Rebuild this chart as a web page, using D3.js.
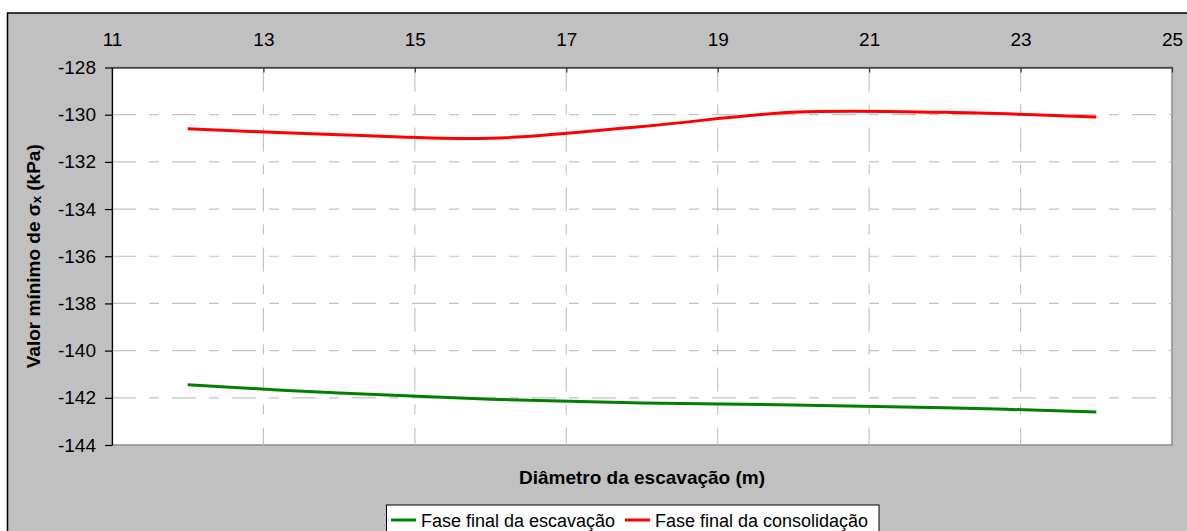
<!DOCTYPE html>
<html>
<head>
<meta charset="utf-8">
<script src="https://cdn.jsdelivr.net/npm/d3@7"></script>
<style>
  html, body { margin: 0; padding: 0; background: #ffffff; }
  svg { display: block; font-family: "Liberation Sans", Arial, sans-serif; }
</style>
</head>
<body>
<svg id="chart" width="1187" height="531"></svg>
<script>
// Excavation diameter (m)
const diameters = [12, 14, 16, 18, 20, 22, 24];
// Minimum horizontal stress σx (kPa) per phase
const escavacao = [-141.45, -141.8, -142.06, -142.22, -142.3, -142.42, -142.6];
const consolidacao = [-130.6, -130.85, -131.0, -130.5, -129.9, -129.9, -130.1];
const seriesNames = ["Fase final da escavação", "Fase final da consolidação"];
const seriesColors = ["#008000", "#ff0000"];
const xTicks = [11, 13, 15, 17, 19, 21, 23, 25];
const yTicks = [-128, -130, -132, -134, -136, -138, -140, -142, -144];

const FS = 19;
const svg = d3.select("#chart");
const W = 1187, H = 531;
const plot = { left: 112, top: 67.5, right: 1172, bottom: 445 };

// chart area background with frame
svg.append("rect").attr("x", 7.5).attr("y", 13).attr("width", W).attr("height", H)
  .attr("fill", "#c0c0c0");
svg.append("path").attr("d", `M7.5,${H} V13 H${W}`)
  .attr("fill", "none").attr("stroke", "#000").attr("stroke-width", 1.5);

const x = d3.scaleLinear().domain([11, 25]).range([plot.left, plot.right]);
const y = d3.scaleLinear().domain([-144, -128]).range([plot.bottom, plot.top]);

// plot area
svg.append("rect")
  .attr("x", plot.left).attr("y", plot.top)
  .attr("width", plot.right - plot.left).attr("height", plot.bottom - plot.top)
  .attr("fill", "#ffffff").attr("stroke", "#8c8c8c").attr("stroke-width", 1.5);

// dashed gridlines
const dash = "24,13,10,13";
svg.append("g").selectAll("line").data(yTicks.slice(1, -1)).join("line")
  .attr("x1", plot.left).attr("x2", plot.right)
  .attr("y1", d => y(d)).attr("y2", d => y(d))
  .attr("stroke", "#c4c4c4").attr("stroke-width", 1.2).attr("stroke-dasharray", dash);
svg.append("g").selectAll("line").data(xTicks.slice(1, -1)).join("line")
  .attr("y1", plot.top).attr("y2", plot.bottom)
  .attr("x1", d => x(d)).attr("x2", d => x(d))
  .attr("stroke", "#c4c4c4").attr("stroke-width", 1.2).attr("stroke-dasharray", dash);

const fmt = d => String(d);

// top x axis (ticks point into the plot)
const xAxis = d3.axisTop(x).tickValues(xTicks).tickFormat(fmt)
  .tickSizeInner(-5).tickSizeOuter(0).tickPadding(0);
const gx = svg.append("g").attr("transform", `translate(0,${plot.top})`).call(xAxis);
gx.attr("font-size", FS).attr("font-family", null);
gx.select(".domain").attr("stroke", "#000").attr("stroke-width", 1.2);
gx.selectAll(".tick line").attr("stroke", "#333").attr("stroke-width", 1.2);
gx.selectAll(".tick text").attr("fill", "#000")
  .attr("y", -22).attr("dy", 0);

// left y axis
const yAxis = d3.axisLeft(y).tickValues(yTicks).tickFormat(fmt)
  .tickSizeInner(7).tickSizeOuter(0).tickPadding(9);
const gy = svg.append("g").attr("transform", `translate(${plot.left},0)`).call(yAxis);
gy.attr("font-size", FS).attr("font-family", null);
gy.select(".domain").attr("stroke", "#000").attr("stroke-width", 1.2);
gy.selectAll(".tick line").attr("stroke", "#000").attr("stroke-width", 1.2);
gy.selectAll(".tick text").attr("fill", "#000");

// series lines (smoothed)
const line = d3.line()
  .x((d, i) => x(diameters[i]))
  .y(d => y(d))
  .curve(d3.curveCatmullRom.alpha(0));
[escavacao, consolidacao].forEach((vals, k) => {
  svg.append("path").datum(vals)
    .attr("d", line)
    .attr("fill", "none")
    .attr("stroke", seriesColors[k])
    .attr("stroke-width", 3)
    .attr("stroke-linecap", "butt");
});

// axis titles
svg.append("text")
  .attr("x", (plot.left + plot.right) / 2).attr("y", 484)
  .attr("text-anchor", "middle").attr("font-size", FS).attr("font-weight", "bold")
  .text("Diâmetro da escavação (m)");

const yt = svg.append("text")
  .attr("transform", `translate(40,${(plot.top + plot.bottom) / 2}) rotate(-90)`)
  .attr("text-anchor", "middle").attr("font-size", FS).attr("font-weight", "bold");
yt.append("tspan").text("Valor mínimo de σ");
yt.append("tspan").attr("font-size", 13).attr("dy", 1).text("x");
yt.append("tspan").attr("dy", -1).text(" (kPa)");

// legend
const lg = svg.append("g");
lg.append("rect").attr("x", 386.5).attr("y", 505).attr("width", 492.5).attr("height", 40)
  .attr("fill", "#ffffff").attr("stroke", "#000").attr("stroke-width", 1);
const legendItems = [
  { x: 391, tx: 421 },
  { x: 625, tx: 655 }
];
legendItems.forEach((it, k) => {
  lg.append("line").attr("x1", it.x).attr("x2", it.x + 25).attr("y1", 520).attr("y2", 520)
    .attr("stroke", seriesColors[k]).attr("stroke-width", 3);
  lg.append("text").attr("x", it.tx).attr("y", 527).attr("font-size", 18)
    .attr("fill", "#000").text(seriesNames[k]);
});
</script>
</body>
</html>
